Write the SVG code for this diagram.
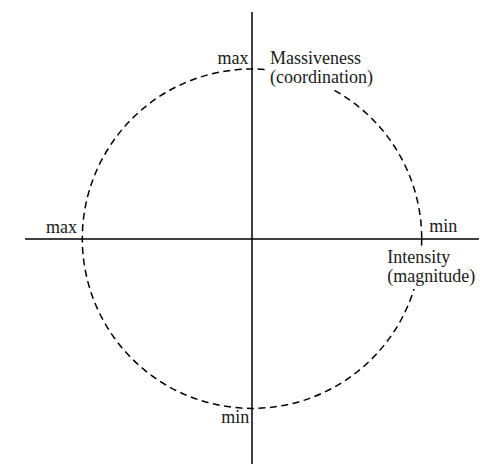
<svg xmlns="http://www.w3.org/2000/svg" width="496" height="464" viewBox="0 0 496 464">
<style>
.axis{stroke:#000;stroke-width:1.5;fill:none}
.ring{stroke:#000;stroke-width:1.5;fill:none;stroke-dasharray:7 4.5}
.bg{fill:#fff}
text{font-family:"Liberation Serif","Times New Roman",serif;font-size:18px;fill:#1a1a1a}
</style>
<rect width="496" height="464" fill="#fff"/>
<g id="connectors">
<line class="axis" x1="252" y1="12" x2="252" y2="464"/>
<line class="axis" x1="25" y1="239" x2="479" y2="239"/>
</g>
<g id="circle">
<circle class="ring" cx="252" cy="238.7" r="169.7"/>
</g>
<g id="labels">
<text x="248.5" y="64" text-anchor="end">max</text>
<g id="massiveness">
<rect class="bg" x="266" y="48" width="117" height="42"/>
<text x="270" y="64">Massiveness</text>
<text x="270" y="82.5">(coordination)</text>
</g>
<text x="77" y="233.3" text-anchor="end">max</text>
<text x="429.3" y="232.3">min</text>
<g id="intensity">
<rect class="bg" x="385" y="248" width="94" height="41"/>
<text x="387.3" y="263">Intensity</text>
<text x="387.3" y="281.8">(magnitude)</text>
</g>
<text x="249.3" y="423.3" text-anchor="end">min</text>
</g>
</svg>
